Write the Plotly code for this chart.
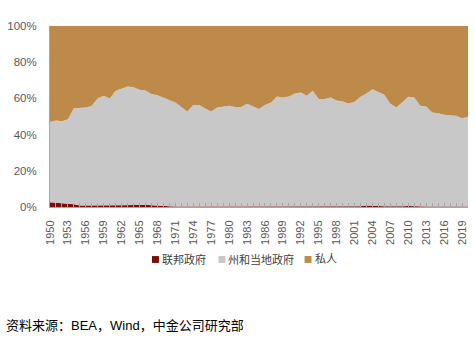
import plotly.graph_objects as go

years = list(range(1950, 2021))

federal = [2.6, 2.4, 2.2, 2.0, 1.5, 0.8, 0.9, 1.0, 1.0, 1.0,
           1.0, 1.0, 1.0, 1.0, 1.2, 1.4, 1.3, 0.9, 0.6, 0.5,
           0.4, 0.3, 0.3, 0.3, 0.3, 0.3, 0.3, 0.3, 0.3, 0.3,
           0.3, 0.3, 0.3, 0.3, 0.3, 0.3, 0.3, 0.3, 0.3, 0.3,
           0.3, 0.3, 0.3, 0.3, 0.3, 0.3, 0.3, 0.3, 0.3, 0.5,
           0.5, 0.5, 0.4, 0.8, 0.9, 0.6, 0.4, 0.3, 0.3, 0.4,
           0.6, 0.4, 0.3, 0.3, 0.3, 0.3, 0.3, 0.3, 0.3, 0.3,
           0.3]

state_local = [44.3, 45.4, 45.2, 46.5, 53.1, 54.2, 54.1, 54.9, 59.1, 60.4,
               59.0, 63.2, 64.5, 65.6, 65.0, 63.4, 63.1, 61.6, 61.2, 59.8,
               58.5, 57.4, 54.9, 52.5, 56.0, 56.0, 54.1, 52.5, 54.7, 55.2,
               55.6, 54.9, 54.9, 56.7, 55.2, 53.9, 56.0, 57.4, 60.8, 60.2,
               60.8, 62.4, 63.0, 61.1, 63.9, 59.3, 59.3, 60.2, 58.6, 57.8,
               56.7, 57.6, 60.5, 61.9, 64.2, 62.9, 61.6, 56.7, 54.7, 57.5,
               60.3, 60.1, 55.6, 55.2, 51.9, 51.5, 50.6, 50.4, 50.1, 48.8,
               49.5]

private = [53.1, 52.2, 52.6, 51.5, 45.4, 45.0, 45.0, 44.1, 39.9, 38.6,
           40.0, 35.8, 34.5, 33.4, 33.8, 35.2, 35.6, 37.5, 38.2, 39.7,
           41.1, 42.3, 44.8, 47.2, 43.7, 43.7, 45.6, 47.2, 45.0, 44.5,
           44.1, 44.8, 44.8, 43.0, 44.5, 45.8, 43.7, 42.3, 38.9, 39.5,
           38.9, 37.3, 36.7, 38.6, 35.8, 40.4, 40.4, 39.5, 41.1, 41.7,
           42.8, 41.9, 39.1, 37.3, 34.9, 36.5, 38.0, 43.0, 45.0, 42.1,
           39.1, 39.5, 44.1, 44.5, 47.8, 48.2, 49.1, 49.3, 49.6, 50.9,
           50.2]

series_names = ["联邦政府", "州和当地政府", "私人"]
series_colors = ["#7A0C0C", "#C8C8C8", "#BE8A4A"]
tick_years = list(range(1950, 2021, 3))
y_ticks = [0, 20, 40, 60, 80, 100]
y_labels = ["0%", "20%", "40%", "60%", "80%", "100%"]

font_family = "Liberation Sans, Arial, Noto Sans CJK SC, sans-serif"

fig = go.Figure()
for name, vals, col in zip(series_names, [federal, state_local, private], series_colors):
    fig.add_trace(go.Scatter(
        x=years, y=vals, name=name, mode="lines",
        stackgroup="one", line=dict(width=0, color=col),
        fillcolor=col, hoverinfo="skip", showlegend=False))

fig.update_layout(
    width=475, height=349,
    margin=dict(l=46, r=7, t=26, b=142),
    paper_bgcolor="white", plot_bgcolor="white",
    font=dict(family=font_family, size=11, color="#595959"),
    showlegend=False,
    xaxis=dict(range=[1950, 2020], tickmode="array", tickvals=tick_years,
               ticktext=[str(y) for y in tick_years], tickangle=-90,
               showgrid=False, zeroline=False, showline=True, linecolor="#A6A6A6",
               ticks="inside", ticklen=4, tickcolor="#A6A6A6", ticklabelstandoff=8,
               minor=dict(tick0=1950, dtick=1, ticks="inside", ticklen=4, tickcolor="#A6A6A6"),
               tickfont=dict(size=11, color="#595959")),
    yaxis=dict(range=[0, 100], tickmode="array", tickvals=y_ticks, ticktext=y_labels,
               showgrid=False, zeroline=False, showline=True, linecolor="#A6A6A6",
               ticks="", ticklabelstandoff=10, tickfont=dict(size=11.5, color="#595959")),
)

# legend drawn as compact square + label pairs (paper coords)
legend_sq_x = [0.244, 0.403, 0.609]
legend_txt_x = [0.264, 0.420, 0.629]
legend_y = -0.290
for sx, tx, name, col in zip(legend_sq_x, legend_txt_x, series_names, series_colors):
    fig.add_shape(type="rect", xref="paper", yref="paper",
                  x0=sx, x1=sx + 0.0166, y0=legend_y + 0.019, y1=legend_y - 0.019,
                  fillcolor=col, line=dict(width=0))
    fig.add_annotation(
        text=name, xref="paper", yref="paper", x=tx, y=legend_y,
        xanchor="left", yanchor="middle", showarrow=False,
        font=dict(size=11, color="#404040", family=font_family))

fig.add_annotation(text="资料来源：BEA，Wind，中金公司研究部", xref="paper", yref="paper",
                   x=-0.109, y=-0.657, xanchor="left", yanchor="middle", showarrow=False,
                   font=dict(size=13, color="#000000", family=font_family))

fig.write_html("out.html")
